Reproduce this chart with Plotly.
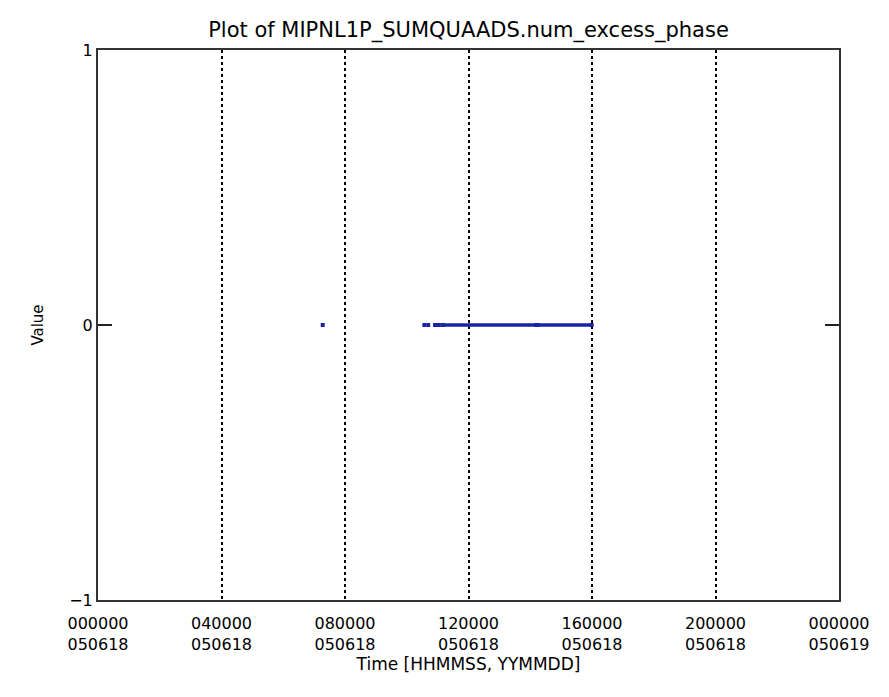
import plotly.graph_objects as go

# Data: seconds since 2005-06-18 00:00, value of num_excess_phase
times = [26200, None, 38050, None, 38500, None, 39300, None, 39750, None,
         40230, 51100, None, 51250, 57560]
values = [0, None, 0, None, 0, None, 0, None, 0, None,
          0, 0, None, 0, 0]

tick_vals = [0, 14400, 28800, 43200, 57600, 72000, 86400]
tick_text = ["000000<br>050618", "040000<br>050618", "080000<br>050618",
             "120000<br>050618", "160000<br>050618", "200000<br>050618",
             "000000<br>050619"]
y_ticks = [-1, 0, 1]
y_text = ["\u22121", "0", "1"]

FONT = "DejaVu Sans"
W, H = 881, 689  # page body adds an 8px margin

fig = go.Figure()
fig.add_trace(go.Scatter(
    x=times, y=values, mode="lines+markers",
    line=dict(color="#1a22a6", width=3.5),
    marker=dict(color="#1a22a6", size=4, symbol="square"),
    connectgaps=False, showlegend=False, hoverinfo="skip",
))

fig.update_layout(
    width=W, height=H,
    margin=dict(l=90, r=50, t=42, b=97),
    paper_bgcolor="white", plot_bgcolor="white",
    font=dict(family=FONT, color="black"),
    title=dict(text="Plot of MIPNL1P_SUMQUAADS.num_excess_phase",
               x=0.5, xref="paper", xanchor="center",
               y=1 - 22 / H, yanchor="middle", yref="container",
               font=dict(size=21, family=FONT)),
)
fig.update_xaxes(
    range=[0, 86400], tickvals=tick_vals, ticktext=tick_text,
    tickfont=dict(size=16, family=FONT), ticks="", ticklabelstandoff=8,
    showgrid=True, gridcolor="black", griddash="dot", gridwidth=1.5,
    showline=True, linecolor="#333333", linewidth=2, mirror=True,
    zeroline=False,
    title=dict(text="Time [HHMMSS, YYMMDD]", font=dict(size=17, family=FONT),
               standoff=1),
)
fig.update_yaxes(
    range=[-1, 1], tickvals=y_ticks, ticktext=y_text,
    tickfont=dict(size=16, family=FONT), ticks="inside", ticklen=14,
    tickcolor="#222222", tickwidth=1.5, ticklabelstandoff=0,
    showgrid=False, zeroline=False,
    showline=True, linecolor="#333333", linewidth=2, mirror="ticks",
    title=dict(text="Value", font=dict(size=15, family=FONT), standoff=22),
)

fig.write_html("out.html")
